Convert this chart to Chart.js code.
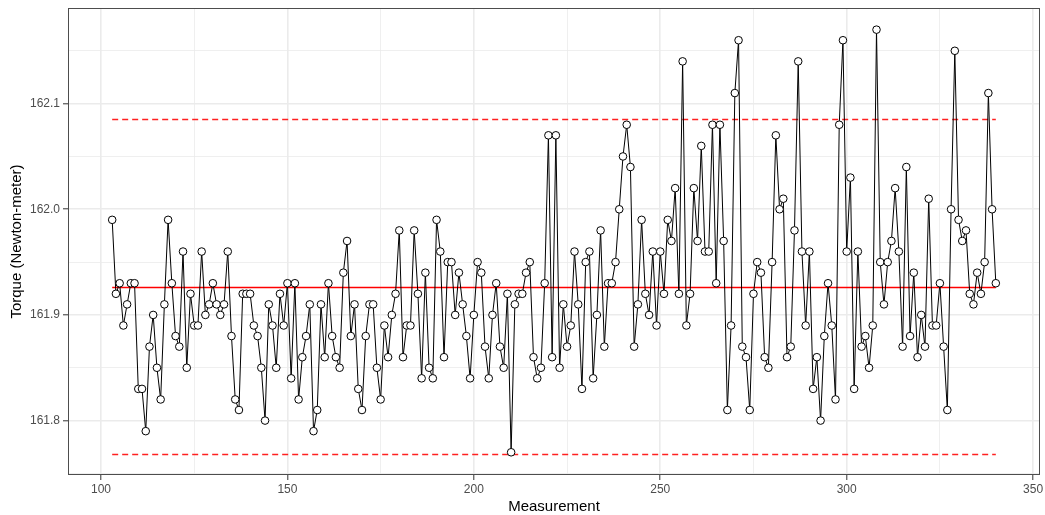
<!DOCTYPE html>
<html><head><meta charset="utf-8">
<script src="https://cdn.jsdelivr.net/npm/chart.js@4/dist/chart.umd.min.js"></script>
<style>html,body{margin:0;padding:0;background:#fff}#wrap{width:1045px;height:515px}</style>
</head><body><div id="wrap"><canvas id="c" width="1045" height="515"></canvas></div>
<script>
const measurements = [
103,104,105,106,107,108,109,110,111,112,
113,114,115,116,117,118,119,120,121,122,
123,124,125,126,127,128,129,130,131,132,
133,134,135,136,137,138,139,140,141,142,
143,144,145,146,147,148,149,150,151,152,
153,154,155,156,157,158,159,160,161,162,
163,164,165,166,167,168,169,170,171,172,
173,174,175,176,177,178,179,180,181,182,
183,184,185,186,187,188,189,190,191,192,
193,194,195,196,197,198,199,200,201,202,
203,204,205,206,207,208,209,210,211,212,
213,214,215,216,217,218,219,220,221,222,
223,224,225,226,227,228,229,230,231,232,
233,234,235,236,237,238,239,240,241,242,
243,244,245,246,247,248,249,250,251,252,
253,254,255,256,257,258,259,260,261,262,
263,264,265,266,267,268,269,270,271,272,
273,274,275,276,277,278,279,280,281,282,
283,284,285,286,287,288,289,290,291,292,
293,294,295,296,297,298,299,300,301,302,
303,304,305,306,307,308,309,310,311,312,
313,314,315,316,317,318,319,320,321,322,
323,324,325,326,327,328,329,330,331,332,
333,334,335,336,337,338,339,340];
const torque = [
161.99,161.92,161.93,161.89,161.91,161.93,161.93,161.83,161.83,161.79,
161.87,161.90,161.85,161.82,161.91,161.99,161.93,161.88,161.87,161.96,
161.85,161.92,161.89,161.89,161.96,161.90,161.91,161.93,161.91,161.90,
161.91,161.96,161.88,161.82,161.81,161.92,161.92,161.92,161.89,161.88,
161.85,161.80,161.91,161.89,161.85,161.92,161.89,161.93,161.84,161.93,
161.82,161.86,161.88,161.91,161.79,161.81,161.91,161.86,161.93,161.88,
161.86,161.85,161.94,161.97,161.88,161.91,161.83,161.81,161.88,161.91,
161.91,161.85,161.82,161.89,161.86,161.90,161.92,161.98,161.86,161.89,
161.89,161.98,161.92,161.84,161.94,161.85,161.84,161.99,161.96,161.86,
161.95,161.95,161.90,161.94,161.91,161.88,161.84,161.90,161.95,161.94,
161.87,161.84,161.90,161.93,161.87,161.85,161.92,161.77,161.91,161.92,
161.92,161.94,161.95,161.86,161.84,161.85,161.93,162.07,161.86,162.07,
161.85,161.91,161.87,161.89,161.96,161.91,161.83,161.95,161.96,161.84,
161.90,161.98,161.87,161.93,161.93,161.95,162.00,162.05,162.08,162.04,
161.87,161.91,161.99,161.92,161.90,161.96,161.89,161.96,161.92,161.99,
161.97,162.02,161.92,162.14,161.89,161.92,162.02,161.97,162.06,161.96,
161.96,162.08,161.93,162.08,161.97,161.81,161.89,162.11,162.16,161.87,
161.86,161.81,161.92,161.95,161.94,161.86,161.85,161.95,162.07,162.00,
162.01,161.86,161.87,161.98,162.14,161.96,161.89,161.96,161.83,161.86,
161.80,161.88,161.93,161.89,161.82,162.08,162.16,161.96,162.03,161.83,
161.96,161.87,161.88,161.85,161.89,162.17,161.95,161.91,161.95,161.97,
162.02,161.96,161.87,162.04,161.88,161.94,161.86,161.90,161.87,162.01,
161.89,161.89,161.93,161.87,161.81,162.00,162.15,161.99,161.97,161.98,
161.92,161.91,161.94,161.92,161.95,162.11,162.00,161.93];
const centerLine = 161.926;
const upperLimit = 162.085;
const lowerLimit = 161.768;
const xMajorTicks = [100,150,200,250,300,350];
const xMinorTicks = [125,175,225,275,325];
const yMajorTicks = [161.8,161.9,162.0,162.1];
const yMinorTicks = [161.75,161.85,161.95,162.05,162.15];

const FONT = "'Liberation Sans', Arial, Helvetica, sans-serif";
const isMajor = (list, v) => list.some(t => Math.abs(t - v) < 1e-6);
const lineAt = (y) => [{x: measurements[0], y: y}, {x: measurements[measurements.length - 1], y: y}];

const panelBorder = {
  id: 'panelBorder',
  afterDraw(chart) {
    const a = chart.chartArea, ctx = chart.ctx;
    ctx.save();
    ctx.strokeStyle = '#4d4d4d';
    ctx.lineWidth = 1;
    ctx.strokeRect(Math.round(a.left) + 0.5, Math.round(a.top) + 0.5, Math.round(a.right - a.left) - 1, Math.round(a.bottom - a.top) - 1);
    ctx.restore();
  }
};

new Chart(document.getElementById('c'), {
  type: 'line',
  data: {
    datasets: [
      {
        data: measurements.map((m, i) => ({x: m, y: torque[i]})),
        borderColor: '#000', borderWidth: 1, tension: 0,
        pointRadius: 3.8, pointBorderWidth: 1,
        pointBackgroundColor: '#fff', pointBorderColor: '#000',
        order: 0
      },
      { data: lineAt(centerLine), borderColor: '#ff0000', borderWidth: 1.6, pointRadius: 0, order: 1 },
      { data: lineAt(upperLimit), borderColor: '#ff2020', borderWidth: 1.5, borderDash: [6, 4], pointRadius: 0, order: 1 },
      { data: lineAt(lowerLimit), borderColor: '#ff2020', borderWidth: 1.5, borderDash: [6, 4], pointRadius: 0, order: 1 }
    ]
  },
  options: {
    responsive: false, animation: false, devicePixelRatio: 1,
    layout: { padding: { top: 8, right: 2, left: 0, bottom: 0 } },
    plugins: { legend: { display: false }, tooltip: { enabled: false } },
    scales: {
      x: {
        type: 'linear', min: 91.15, max: 351.85,
        afterBuildTicks: (s) => { s.ticks = xMajorTicks.concat(xMinorTicks).sort((a, b) => a - b).map(v => ({value: v})); },
        afterFit: (s) => { s.height = 40; s.paddingLeft = 0; s.paddingRight = 0; },
        ticks: {
          autoSkip: false, maxRotation: 0, color: '#4d4d4d', padding: 2,
          font: { family: FONT, size: 12 },
          callback: (v) => isMajor(xMajorTicks, v) ? String(v) : ''
        },
        grid: {
          color: '#ebebeb',
          lineWidth: (c) => isMajor(xMajorTicks, c.tick.value) ? 1.6 : 0.8,
          tickColor: (c) => isMajor(xMajorTicks, c.tick.value) ? '#333' : 'rgba(0,0,0,0)',
          tickLength: 5, tickWidth: 1
        },
        border: { display: false },
        title: { display: true, text: 'Measurement', color: '#000', font: { family: FONT, size: 15 }, padding: { top: 0, bottom: -1 } }
      },
      y: {
        type: 'linear', min: 161.7485, max: 162.1905,
        afterBuildTicks: (s) => { s.ticks = yMajorTicks.concat(yMinorTicks).sort((a, b) => a - b).map(v => ({value: v})); },
        afterFit: (s) => { s.width = 68; s.paddingTop = 0; s.paddingBottom = 0; },
        ticks: {
          autoSkip: false, color: '#4d4d4d', padding: 3,
          font: { family: FONT, size: 12 },
          callback: (v) => isMajor(yMajorTicks, v) ? v.toFixed(1) : ''
        },
        grid: {
          color: '#ebebeb',
          lineWidth: (c) => isMajor(yMajorTicks, c.tick.value) ? 1.6 : 0.8,
          tickColor: (c) => isMajor(yMajorTicks, c.tick.value) ? '#333' : 'rgba(0,0,0,0)',
          tickLength: 5, tickWidth: 1
        },
        border: { display: false },
        title: { display: true, text: 'Torque (Newton-meter)', color: '#000', font: { family: FONT, size: 15 }, padding: { top: 8, bottom: 0 } }
      }
    }
  },
  plugins: [panelBorder]
});
</script></body></html>
